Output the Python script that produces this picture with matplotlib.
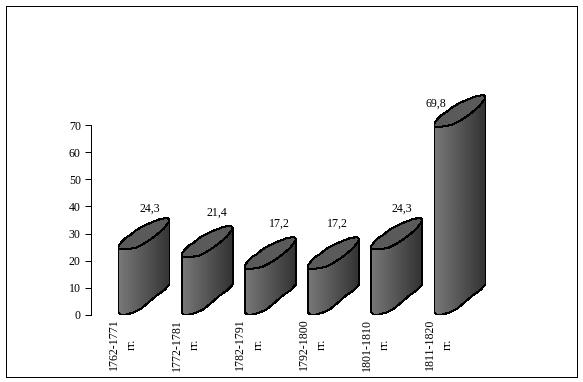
"""Sheared cylinder bar chart."""

import matplotlib

matplotlib.use("Agg")
import matplotlib.pyplot as plt
import numpy as np
from matplotlib.patches import Polygon, Rectangle

periods = ["1762-1771", "1772-1781", "1782-1791", "1792-1800", "1801-1810", "1811-1820"]
values = [24.3, 21.4, 17.2, 17.2, 24.3, 69.8]
value_labels = ["24,3", "21,4", "17,2", "17,2", "24,3", "69,8"]
y_ticks = [0, 10, 20, 30, 40, 50, 60, 70]

# label placement relative to the bar (x in bar steps, y in value units)
label_dx = [0.5, 0.56, 0.54, 0.47, 0.48, 0.02]
label_dy = [15.0, 16.4, 16.6, 16.6, 15.0, 8.4]

W, H, DPI = 583, 382, 100
STEP_PX = 63.2
WIDTH_PX = 51
PX_PER_UNIT = 2.7

# cylinder outline in pixels: x from the left edge, y above the base / top level
BOTTOM_ARC = np.array([(0, 2), (2, 0), (8, 0), (15, 2), (22, 5.3), (30, 12), (38, 19), (46, 24.5), (51, 30)], float)
CAP_LOWER = np.array([(0, -0.5), (8, -0.5), (17, 1), (25, 5), (32, 9.5), (38, 14), (45, 20), (51, 28)], float)
CAP_UPPER = np.array([(0, 3), (3, 7), (7, 11), (12, 14), (18, 19), (25, 23), (33, 26.5), (42, 30), (49, 31), (51, 29)], float)


def to_data(arc, x0, base):
    return np.column_stack([x0 + arc[:, 0] / STEP_PX, base + arc[:, 1] / PX_PER_UNIT])


fig = plt.figure(figsize=(W / DPI, H / DPI), dpi=DPI, facecolor="white")
plt.rcParams["font.family"] = ["Liberation Serif", "DejaVu Serif"]

fig.add_artist(Rectangle((5.5 / W, 1 - 376.5 / H), 571 / W, 371 / H, transform=fig.transFigure,
                         fill=False, edgecolor="black", linewidth=0.72, antialiased=False))

ax = fig.add_axes([90.5 / W, 1 - 314.5 / H, 400 / W, 189 / H])
ax.patch.set_visible(False)

gradient = np.linspace(0.47, 0.2, 64).reshape(1, -1)

for i, value in enumerate(values):
    bottom = to_data(BOTTOM_ARC, i, 0)
    lower = to_data(CAP_LOWER, i, value)
    upper = to_data(CAP_UPPER, i, value)

    body = np.vstack([bottom, lower[::-1]])
    outline = Polygon(body, closed=True, facecolor="none", edgecolor="black", linewidth=0.72,
                      clip_on=False, zorder=3, antialiased=False)
    ax.add_patch(outline)
    im = ax.imshow(gradient, cmap="gray", vmin=0, vmax=1, aspect="auto", zorder=2,
                   extent=(i, i + WIDTH_PX / STEP_PX, -2, value + 12))
    im.set_clip_path(outline)
    im.set_clip_box(fig.bbox)

    cap = Polygon(np.vstack([lower, upper[::-1]]), closed=True, facecolor="#5a5a5a",
                  edgecolor="black", linewidth=0.72, clip_on=False, zorder=4, antialiased=False)
    ax.add_patch(cap)

    ax.text(i + label_dx[i], value + label_dy[i], value_labels[i], ha="center", va="center",
            fontsize=8.6, clip_on=False)

ax.set_xlim((90.5 - 118.5) / STEP_PX, (490.5 - 118.5) / STEP_PX)
ax.set_ylim(0, 70)
ax.set_yticks(y_ticks)
ax.set_xticks(np.arange(len(periods)) + 0.07)
ax.set_xticklabels([f"{p}\nгг." for p in periods], rotation=90, ha="center", va="top",
                   multialignment="center", linespacing=1.65)
ax.tick_params(axis="y", length=4, width=0.72, pad=3, labelsize=8.6)
ax.tick_params(axis="x", length=0, pad=3, labelsize=8.6)
for side in ["top", "right", "bottom"]:
    ax.spines[side].set_visible(False)
ax.spines["left"].set_linewidth(0.72)

fig.savefig("out.png", dpi=DPI)
